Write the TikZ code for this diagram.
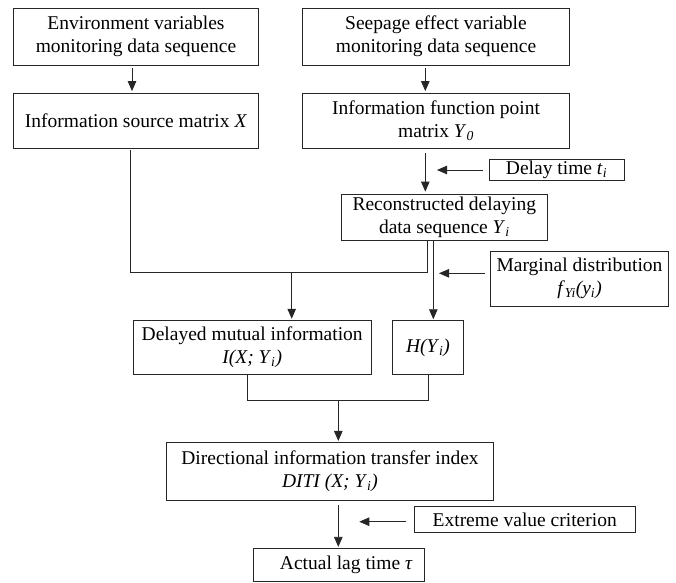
\documentclass[tikz,border=0pt]{standalone}
\usepackage{fontspec}
\setmainfont{Liberation Serif}
\usetikzlibrary{arrows.meta}
\newcommand{\itsub}[2]{\textit{#1}\textsubscript{\textit{#2}}}
\begin{document}
\begin{tikzpicture}[x=1pt,y=-1pt,
  box/.style={draw=black!85, line width=0.8pt, rectangle, inner sep=0pt, align=center,
    font=\fontsize{19.5}{23}\selectfont},
  arr/.style={draw=black!85, line width=0.8pt, -{Triangle[length=10pt,width=8.5pt]}},
  ln/.style={draw=black!85, line width=0.8pt}]
\useasboundingbox (0,0) rectangle (676,582);
% boxes
\node[box, minimum width=245.4pt, minimum height=56.7pt] (env) at (136,36.7)
  {Environment variables\\monitoring data sequence};
\node[box, minimum width=266.6pt, minimum height=56.7pt] (seep) at (436,36.7)
  {Seepage effect variable\\monitoring data sequence};
\node[box, minimum width=245.4pt, minimum height=55pt] (src) at (136,120.5)
  {Information source matrix \textit{X}};
\node[box, minimum width=266.6pt, minimum height=55pt] (fun) at (436,120.5)
  {Information function point\\matrix \itsub{Y}{0}};
\node[box, minimum width=135pt, minimum height=21pt] (delay) at (556.5,169.5)
  {Delay time \itsub{t}{i}};
\node[box, minimum width=206.7pt, minimum height=46pt] (recon) at (444.3,217)
  {Reconstructed delaying\\data sequence \itsub{Y}{i}};
\node[box, minimum width=177.6pt, minimum height=55pt] (marg) at (579.5,278.5)
  {Marginal distribution\\\itsub{f}{Yi}\itsub{(y}{i}\textit{)}};
\node[box, minimum width=237.7pt, minimum height=53.3pt] (dmi) at (252.2,347.3)
  {Delayed mutual information\\\itsub{I(X; Y}{i}\textit{)}};
\node[box, minimum width=70.6pt, minimum height=53.3pt] (H) at (428,347.3)
  {\itsub{H(Y}{i}\textit{)}};
\node[box, minimum width=326.6pt, minimum height=57.7pt] (diti) at (330,471.2)
  {Directional information transfer index\\\itsub{DITI (X; Y}{i}\textit{)}};
\node[box, minimum width=220.7pt, minimum height=26pt] (ext) at (524.7,519.7)
  {Extreme value criterion};
\node[box, minimum width=171pt, minimum height=33pt] (act) at (338.8,564.8)
  {\hspace*{15pt}Actual lag time \textit{τ}};
% coordinates
\coordinate (cA) at (132,0);
\coordinate (cB) at (425.3,0);
\coordinate (dtip) at (437,170);
\coordinate (jL) at (130.7,272.7);
\coordinate (jR) at (427,272.7);
\coordinate (jM) at (291.7,272.7);
\coordinate (hx) at (433.3,0);
\coordinate (mtip) at (439,273.3);
\coordinate (bL) at (247.7,400);
\coordinate (bR) at (428,400);
\coordinate (bM) at (338.3,400);
\coordinate (etip) at (359.3,521.7);
% connectors
\draw[arr, shorten <=3pt, shorten >=1.5pt] (env.south -| cA) -- (src.north -| cA);
\draw[arr, shorten <=3pt, shorten >=1.5pt] (seep.south -| cB) -- (fun.north -| cB);
\draw[arr, shorten <=5pt, shorten >=2pt] (fun.south -| cB) -- (recon.north -| cB);
\draw[arr, shorten <=6pt] (delay.west |- dtip) -- (dtip);
\draw[ln, shorten <=2pt] (src.south -| jL) -- (jL) -- (jR) -- (recon.south -| jR);
\draw[arr, shorten >=1.5pt] (jM) -- (dmi.north -| jM);
\draw[arr, shorten >=1pt] (recon.south -| hx) -- (H.north -| hx);
\draw[arr, shorten <=5pt] (marg.west |- mtip) -- (mtip);
\draw[ln] (dmi.south -| bL) -- (bL) -- (bR) -- (H.south -| bR);
\draw[arr, shorten >=1pt] (bM) -- (diti.north -| bM);
\draw[arr, shorten <=5pt, shorten >=1pt] (diti.south -| bM) -- (act.north -| bM);
\draw[arr, shorten <=7.6pt] (ext.west |- etip) -- (etip);
\end{tikzpicture}
\end{document}
